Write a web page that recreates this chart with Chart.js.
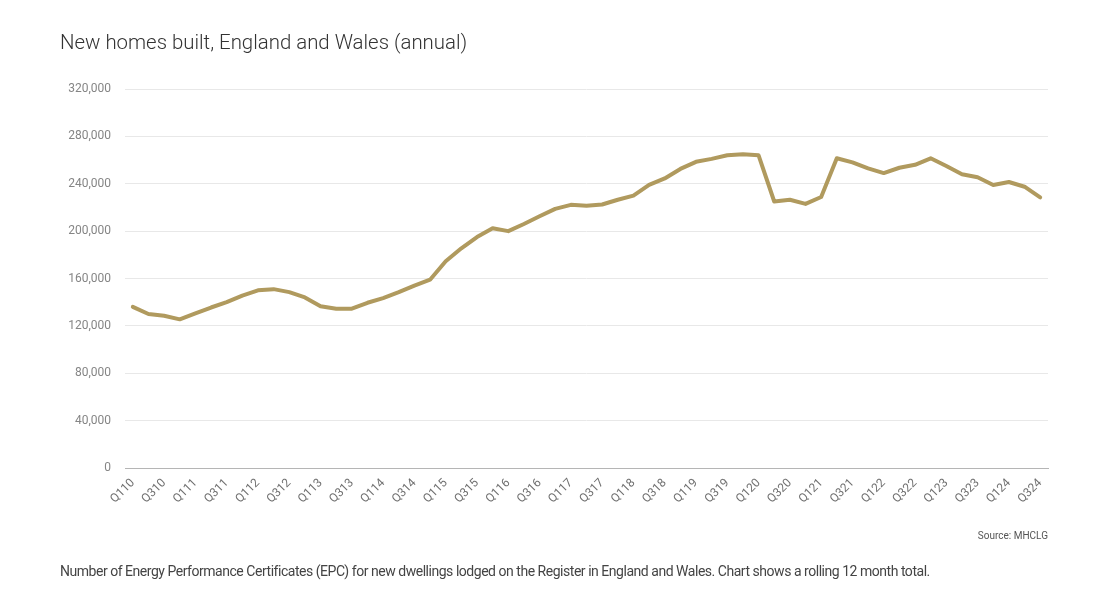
<!DOCTYPE html>
<html>
<head>
<meta charset="utf-8">
<script src="https://cdn.jsdelivr.net/npm/chart.js@4.4.1/dist/chart.umd.min.js"></script>
<style>
  html, body { margin: 0; padding: 0; background: #fff; }
  body { width: 1117px; height: 612px; position: relative; overflow: hidden; font-family: Roboto, "Noto Sans", sans-serif; }
  #title { position: absolute; left: 60px; top: 30px; font-size: 20.4px; font-weight: 300; color: #333; white-space: nowrap; }
  #source { position: absolute; right: 69px; top: 530px; font-size: 10px; color: #555; white-space: nowrap; }
  #note { position: absolute; left: 60px; top: 563px; font-size: 14px; color: #444; white-space: nowrap; letter-spacing: -0.47px; }
  #wrap { position: absolute; left: 0; top: 0; width: 1117px; height: 612px; }
</style>
</head>
<body>
<div id="wrap"><canvas id="c" width="1117" height="612"></canvas></div>
<div id="title">New homes built, England and Wales (annual)</div>
<div id="source">Source: MHCLG</div>
<div id="note">Number of Energy Performance Certificates (EPC) for new dwellings lodged on the Register in England and Wales. Chart shows a rolling 12 month total.</div>
<script>
const quarters = [
  "Q110","Q210","Q310","Q410","Q111","Q211","Q311","Q411",
  "Q112","Q212","Q312","Q412","Q113","Q213","Q313","Q413",
  "Q114","Q214","Q314","Q414","Q115","Q215","Q315","Q415",
  "Q116","Q216","Q316","Q416","Q117","Q217","Q317","Q417",
  "Q118","Q218","Q318","Q418","Q119","Q219","Q319","Q419",
  "Q120","Q220","Q320","Q420","Q121","Q221","Q321","Q421",
  "Q122","Q222","Q322","Q422","Q123","Q223","Q323","Q423",
  "Q124","Q224","Q324"
];
const newHomes = [
  136000,130000,128500,125500,130500,135500,140000,145500,
  150000,151000,148500,144000,136500,134500,134500,139500,
  143500,148500,154000,159000,174500,185500,195000,202500,
  200000,206000,212500,218800,222200,221500,222500,226500,
  230000,239000,244500,252500,258500,261000,264000,265000,
  264000,225000,226500,223000,228800,261500,258000,253000,
  249000,253500,256000,261500,255000,248000,245500,239000,
  241500,237500,228500
];
const yTicks = [0,40000,80000,120000,160000,200000,240000,280000,320000];

new Chart(document.getElementById('c'), {
  type: 'line',
  data: {
    labels: quarters,
    datasets: [{
      data: newHomes,
      borderColor: '#b09a5e',
      borderWidth: 4,
      pointRadius: 0,
      tension: 0,
      fill: false,
      borderJoinStyle: 'round',
      borderCapStyle: 'round'
    }]
  },
  options: {
    responsive: false,
    animation: false,
    layout: { padding: { left: 40, right: 69, top: 89, bottom: 94 } },
    plugins: { legend: { display: false }, tooltip: { enabled: false }, title: { display: false } },
    scales: {
      x: {
        offset: true,
        grid: { display: false, drawTicks: false },
        border: { display: true, color: '#b5b5b5', width: 1 },
        ticks: {
          autoSkip: false,
          minRotation: 45,
          maxRotation: 45,
          padding: 8,
          color: '#707070',
          font: { family: 'Roboto', size: 12 },
          callback: function(v, i) { return i % 2 === 0 ? quarters[i] : ''; }
        },
        afterFit: function(s) { s.height = 50; }
      },
      y: {
        min: 0,
        max: 320000,
        afterBuildTicks: function(s) { s.ticks = yTicks.map(v => ({ value: v })); },
        grid: { color: '#e8e8e8', drawTicks: false, lineWidth: 1 },
        border: { display: false },
        ticks: {
          padding: 14,
          color: '#858585',
          font: { family: 'Roboto', size: 12 },
          callback: function(v) { return v.toLocaleString('en-US'); }
        },
        afterFit: function(s) { s.width = 85; }
      }
    }
  }
});
</script>
</body>
</html>
